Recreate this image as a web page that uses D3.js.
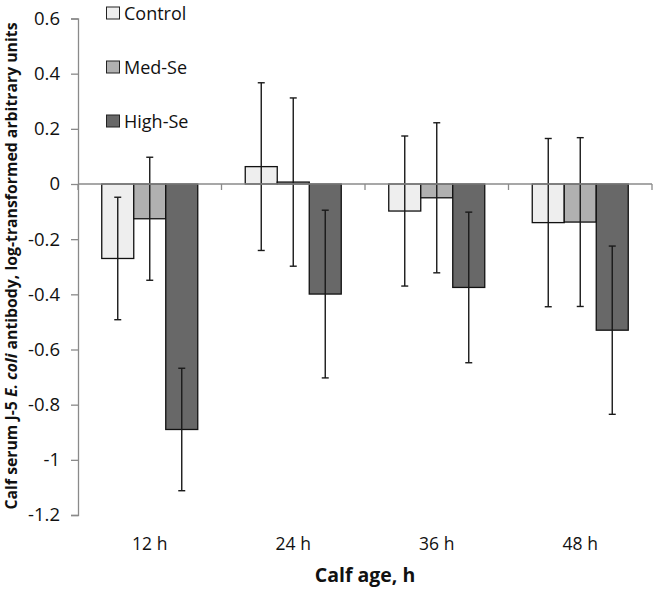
<!DOCTYPE html>
<html>
<head>
<meta charset="utf-8">
<script src="https://cdn.jsdelivr.net/npm/d3@7"></script>
<style>
  body { margin: 0; background: #fff; }
  svg { display: block; font-family: "Open Sans", sans-serif; }
</style>
</head>
<body>
<svg id="chart" width="657" height="589"></svg>
<script>
const categories = ["12 h", "24 h", "36 h", "48 h"];
const seriesNames = ["Control", "Med-Se", "High-Se"];
const controlValues = [-0.27, 0.063, -0.098, -0.14];
const medSeValues = [-0.126, 0.007, -0.05, -0.138];
const highSeValues = [-0.89, -0.399, -0.375, -0.53];
const controlErr = [0.222, 0.304, 0.272, 0.305];
const medSeErr = [0.223, 0.305, 0.272, 0.306];
const highSeErr = [0.222, 0.304, 0.273, 0.305];
const yTicks = [0.6, 0.4, 0.2, 0, -0.2, -0.4, -0.6, -0.8, -1, -1.2];
const colors = ["#eeeeee", "#b0b0b0", "#686868"];

const series = [
  { name: seriesNames[0], values: controlValues, err: controlErr },
  { name: seriesNames[1], values: medSeValues, err: medSeErr },
  { name: seriesNames[2], values: highSeValues, err: highSeErr }
];

const svg = d3.select("#chart");
const mLeft = 78, mRight = 652, mTop = 18.5, mBottom = 515;

const y = d3.scaleLinear().domain([-1.2, 0.6]).range([mBottom, mTop]);
const x0 = d3.scaleBand().domain(categories).range([mLeft, mRight]).paddingInner(0).paddingOuter(0);
const bandPad = (x0.bandwidth() - 96) / 2;
const x1 = d3.scaleBand().domain(seriesNames).range([bandPad, x0.bandwidth() - bandPad]).padding(0);

const axisColor = "#8a8a8a";

// Y axis
const yAxis = svg.append("g").attr("transform", `translate(${mLeft},0)`)
  .call(d3.axisLeft(y).tickValues(yTicks).tickSize(7).tickPadding(11).tickFormat(d => String(d)));
yAxis.select(".domain").attr("stroke", axisColor).attr("stroke-width", 1.3);
yAxis.selectAll(".tick line").attr("stroke", axisColor).attr("stroke-width", 1.3);
yAxis.selectAll(".tick text").attr("fill", "#111").style("font-size", "18.5px").style("font-family", "Open Sans, sans-serif");

// Bars
const groups = svg.append("g").selectAll("g").data(categories).join("g")
  .attr("transform", d => `translate(${x0(d)},0)`);

series.forEach((s, si) => {
  groups.append("rect")
    .attr("x", x1(s.name))
    .attr("width", x1.bandwidth())
    .attr("y", (d, i) => Math.min(y(s.values[i]), y(0)))
    .attr("height", (d, i) => Math.abs(y(s.values[i]) - y(0)))
    .attr("fill", colors[si])
    .attr("stroke", "#111")
    .attr("stroke-width", 1.3);
});

// X axis at zero
const xAxis = svg.append("g").attr("transform", `translate(0,${y(0)})`);
xAxis.append("line").attr("x1", mLeft).attr("x2", mRight).attr("stroke", axisColor).attr("stroke-width", 1.3);
xAxis.selectAll("line.tk").data(d3.range(categories.length + 1)).join("line").attr("class", "tk")
  .attr("x1", i => mLeft + i * x0.bandwidth()).attr("x2", i => mLeft + i * x0.bandwidth())
  .attr("y1", 0).attr("y2", 6).attr("stroke", axisColor).attr("stroke-width", 1.3);

// Error bars
series.forEach((s, si) => {
  const g = groups.append("g").attr("stroke", "#1a1a1a").attr("stroke-width", 1.4);
  const cx = x1(s.name) + x1.bandwidth() / 2;
  g.append("line").attr("x1", cx).attr("x2", cx)
    .attr("y1", (d, i) => y(s.values[i] + s.err[i]))
    .attr("y2", (d, i) => y(s.values[i] - s.err[i]));
  g.append("line").attr("x1", cx - 3.5).attr("x2", cx + 3.5)
    .attr("y1", (d, i) => y(s.values[i] + s.err[i]))
    .attr("y2", (d, i) => y(s.values[i] + s.err[i]));
  g.append("line").attr("x1", cx - 3.5).attr("x2", cx + 3.5)
    .attr("y1", (d, i) => y(s.values[i] - s.err[i]))
    .attr("y2", (d, i) => y(s.values[i] - s.err[i]));
});

// Category labels
svg.append("g").selectAll("text").data(categories).join("text")
  .attr("x", d => x0(d) + x0.bandwidth() / 2)
  .attr("y", 550)
  .attr("text-anchor", "middle")
  .style("font-size", "17.5px")
  .attr("fill", "#111")
  .text(d => d);

// X title
svg.append("text").attr("x", 365).attr("y", 582).attr("text-anchor", "middle")
  .style("font-size", "19.5px").style("font-weight", "bold").attr("fill", "#111")
  .text("Calf age, h");

// Y title
const yt = svg.append("text")
  .attr("transform", `translate(17,${(25 + 507) / 2}) rotate(-90)`)
  .attr("text-anchor", "middle")
  .style("font-size", "15.8px").style("font-weight", "bold").attr("fill", "#111");
yt.append("tspan").text("Calf serum J-5 ");
yt.append("tspan").style("font-style", "italic").text("E. coli");
yt.append("tspan").text(" antibody, log-transformed arbitrary units");

// Legend
const legend = svg.append("g");
const legendY = [13, 67, 121];
series.forEach((s, si) => {
  legend.append("rect").attr("x", 106.5).attr("y", legendY[si] - 6).attr("width", 13).attr("height", 12)
    .attr("fill", colors[si]).attr("stroke", "#222").attr("stroke-width", 1);
  legend.append("text").attr("x", 124).attr("y", legendY[si] + 6.5)
    .style("font-size", "18px").attr("fill", "#111").text(s.name);
});
</script>
</body>
</html>
